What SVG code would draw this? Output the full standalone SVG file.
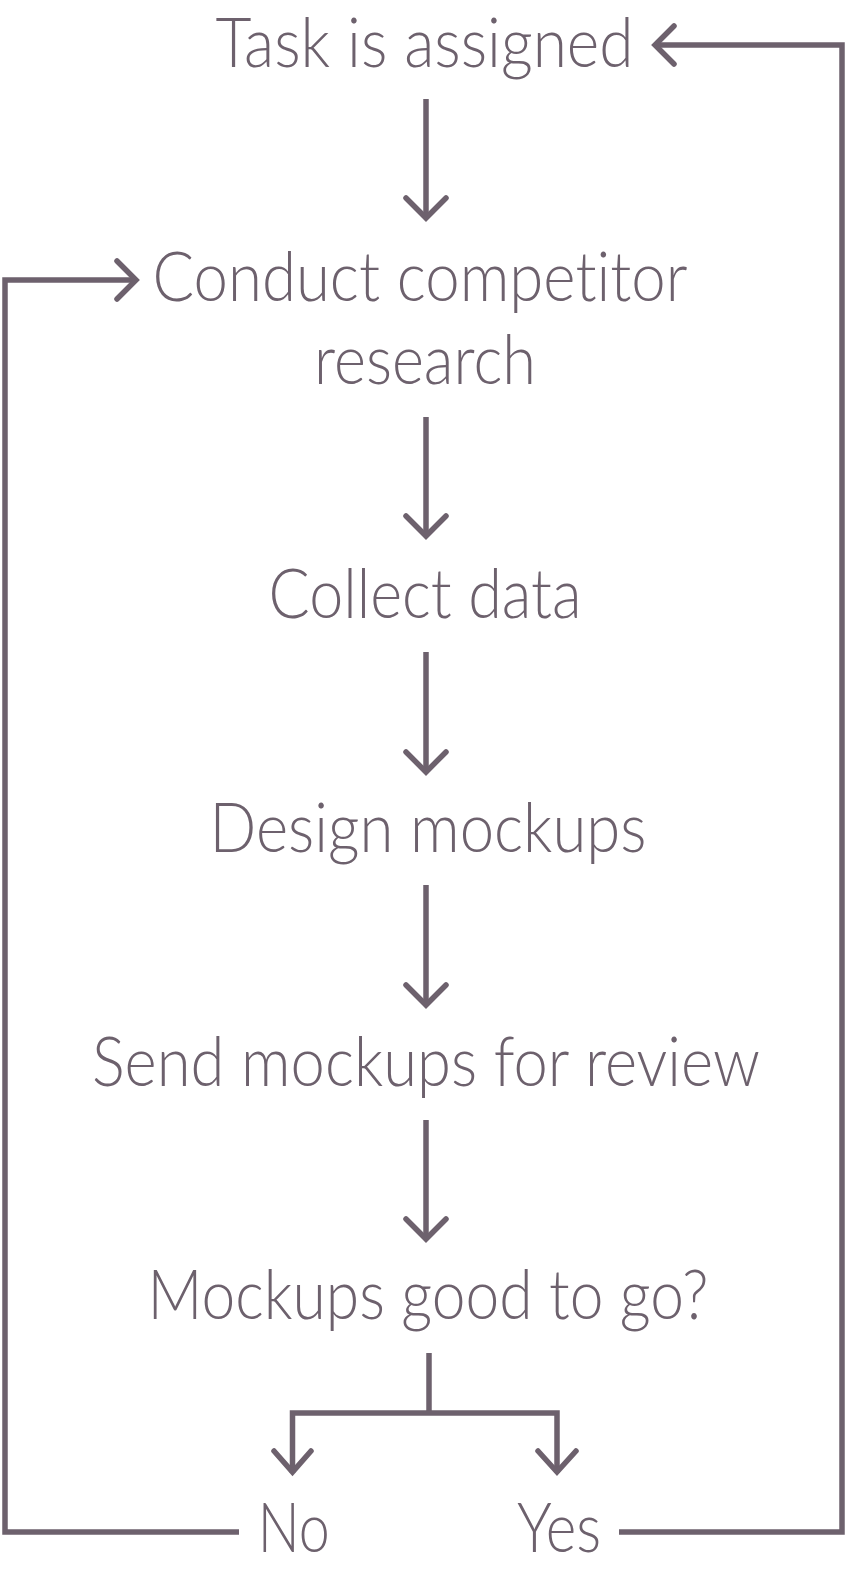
<svg xmlns="http://www.w3.org/2000/svg" width="846" height="1572" viewBox="0 0 846 1572">
<defs>
<style>
.t{font-family:"Lato","Noto Sans",sans-serif;font-weight:300;font-size:68px;fill:#6d616d;text-anchor:middle;font-variant-ligatures:none;font-feature-settings:"liga" 0}
.c{fill:none;stroke:#6d616d;stroke-width:5.5}
.h{fill:none;stroke:#6d616d;stroke-width:5.5;stroke-linecap:round;stroke-linejoin:miter}
</style>
</defs>
<rect width="846" height="1572" fill="#ffffff"/>
<g id="n1"><text class="t" x="424.5" y="67" textLength="418" lengthAdjust="spacingAndGlyphs">Task is assigned</text></g>
<g id="n2"><text class="t" x="420" y="301" textLength="535" lengthAdjust="spacingAndGlyphs">Conduct competitor</text><text class="t" x="425" y="384" textLength="222" lengthAdjust="spacingAndGlyphs">research</text></g>
<g id="n3"><text class="t" x="425" y="618" textLength="313" lengthAdjust="spacingAndGlyphs">Collect data</text></g>
<g id="n4"><text class="t" x="428" y="852" textLength="437" lengthAdjust="spacingAndGlyphs">Design mockups</text></g>
<g id="n5"><text class="t" x="426" y="1086" textLength="668" lengthAdjust="spacingAndGlyphs">Send mockups for review</text></g>
<g id="n6"><text class="t" x="428" y="1319" textLength="561" lengthAdjust="spacingAndGlyphs">Mockups good to go?</text></g>
<g id="n7"><text class="t" x="293.7" y="1552" textLength="72" lengthAdjust="spacingAndGlyphs">No</text></g>
<g id="n8"><text class="t" x="559" y="1552" textLength="84" lengthAdjust="spacingAndGlyphs">Yes</text></g>
<g id="connectors">
<path class="c" d="M426 99V216"/><path class="h" d="M406 198L426 218L446 198"/>
<path class="c" d="M426 417V534"/><path class="h" d="M406 516L426 536L446 516"/>
<path class="c" d="M426 652V770"/><path class="h" d="M406 752L426 772L446 752"/>
<path class="c" d="M426 885V1003"/><path class="h" d="M406 985L426 1005L446 985"/>
<path class="c" d="M426 1120V1237"/><path class="h" d="M406 1219L426 1239L446 1219"/>
<path class="c" d="M429 1353V1413M292.5 1473V1413H557V1473"/>
<path class="h" d="M274 1451L292.5 1472L311 1451M538 1451L557 1472L576 1451"/>
<path class="c" d="M619 1532H842V45H656"/><path class="h" d="M674 26L655 45L674 64"/>
<path class="c" d="M239 1532H5V280H134"/><path class="h" d="M117 261L136 280L117 299"/>
</g>
</svg>
